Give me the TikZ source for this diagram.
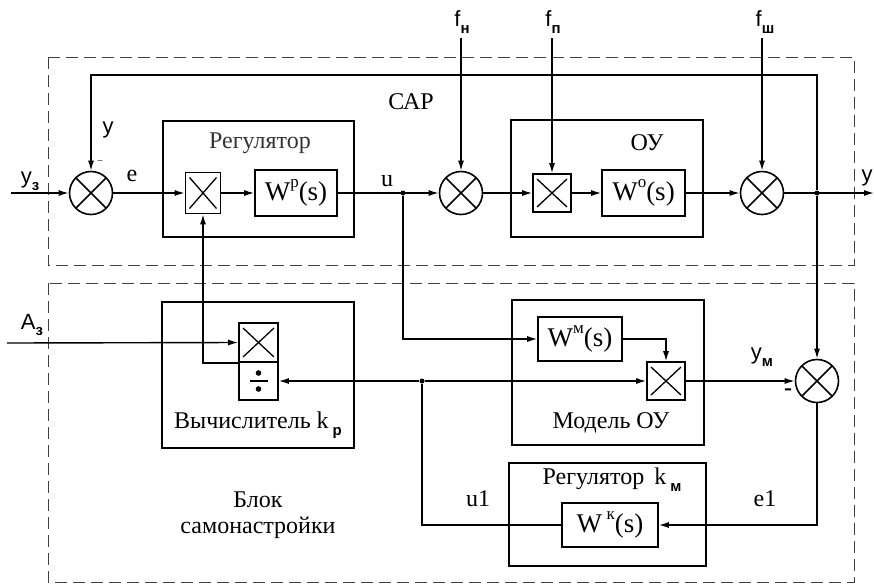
\documentclass[tikz,border=0pt]{standalone}
\usepackage{fontspec}
\setmainfont{Liberation Serif}
\newfontfamily\lsans{Liberation Sans}
\usetikzlibrary{arrows.meta}
\newcommand{\sps}[1]{\raisebox{0.5em}{\fontsize{17}{18}\selectfont #1}}
\newcommand{\sbs}[1]{\raisebox{-0.3em}{\fontsize{15}{16}\selectfont\lsans\bfseries #1}}
\begin{document}
\begin{tikzpicture}[x=1pt,y=-1pt,
  every node/.style={font=\fontsize{24}{28}\selectfont, inner sep=0pt},
  grp/.style={draw, line width=1.8pt, rectangle},
  blk/.style={draw, line width=1.6pt, rectangle, font=\fontsize{27}{30}\selectfont},
  mul/.style={draw, line width=1.6pt, rectangle,
    path picture={\draw[line width=1.3pt]
      ([shift={(4pt,-5pt)}]path picture bounding box.north west) --
      ([shift={(-4pt,5pt)}]path picture bounding box.south east)
      ([shift={(-4pt,-5pt)}]path picture bounding box.north east) --
      ([shift={(4pt,5pt)}]path picture bounding box.south west);}},
  dv/.style={draw, line width=1.6pt, rectangle,
    path picture={\draw[line width=1.5pt]
      ([xshift=-9pt]path picture bounding box.center) --
      ([xshift=9pt]path picture bounding box.center);
      \fill ([yshift=8pt]path picture bounding box.center) circle (2.8pt);
      \fill ([yshift=-8pt]path picture bounding box.center) circle (2.8pt);}},
  sumc/.style={circle, draw, line width=1.6pt, minimum size=43pt,
    path picture={\draw[line width=1.5pt]
      ([shift={(45:21.5pt)}]path picture bounding box.center) --
      ([shift={(225:21.5pt)}]path picture bounding box.center)
      ([shift={(135:21.5pt)}]path picture bounding box.center) --
      ([shift={(315:21.5pt)}]path picture bounding box.center);}},
  arr/.style={line width=1.4pt, -{Latex[length=10pt,width=6pt]}},
  ln/.style={line width=1.4pt},
  dframe/.style={draw=black!75, line width=0.9pt, dash pattern=on 12pt off 6pt},
  dotj/.style={circle, fill, minimum size=5pt},
  lbl/.style={font=\fontsize{24}{28}\selectfont},
  slbl/.style={font=\fontsize{22}{26}\selectfont\lsans},
]
\useasboundingbox (0,0) rectangle (874,584);

% dashed frames
\draw[dframe] (48,57) rectangle (854,265);
\draw[dframe] (48,283) rectangle (854,582);

% upper (САР) blocks
\node[grp, minimum width=191pt, minimum height=116pt] (reg) at (258.5,179) {};
\node[grp, minimum width=192pt, minimum height=117pt] (ou) at (607,178.5) {};
\node[sumc] (s1) at (91,193) {};
\node[mul, minimum width=35pt, minimum height=41pt] (m1) at (203,193) {};
\node[blk, minimum width=82pt, minimum height=46pt] (wp) at (296,193) {W\sps{р}(s)};
\node[sumc] (s2) at (461,193) {};
\node[mul, minimum width=38pt, minimum height=38pt] (m2) at (552,193) {};
\node[blk, minimum width=83pt, minimum height=46pt] (wo) at (643.5,193) {W\sps{о}(s)};
\node[sumc] (s3) at (762,193) {};

% lower blocks
\node[grp, minimum width=192pt, minimum height=146pt] (calc) at (258,375) {};
\node[mul, minimum width=39pt, minimum height=39pt] (mul4) at (258.5,342.5) {};
\node[dv, minimum width=39pt, minimum height=38pt] (div) at (258.5,381) {};
\node[grp, minimum width=192pt, minimum height=145pt] (model) at (608,372.5) {};
\node[blk, minimum width=84pt, minimum height=44pt] (wm) at (580,339) {W\sps{м}(s)};
\node[mul, minimum width=38pt, minimum height=38pt] (m3) at (666,381) {};
\node[sumc] (s4) at (817,381) {};
\node[grp, minimum width=197pt, minimum height=103pt] (regk) at (607.5,514.5) {};
\node[blk, minimum width=96pt, minimum height=44pt] (wk) at (610,525) {W\,\sps{к}(s)};

% coordinates
\coordinate (yzin) at (11,193);
\coordinate (yout) at (874,193);
\coordinate (fb) at (0,75);
\coordinate (fn) at (461,38);
\coordinate (fp) at (552,38);
\coordinate (fsh) at (762,38);
\coordinate (azin) at (7,343);
\node[dotj] (ju) at (403,193) {};
\node[dotj] (j1) at (817,193) {};
\node[dotj] (j2) at (422,381) {};

% connectors, upper
\draw[arr] (yzin) -- (s1.west);
\draw[arr] (s1.east) -- (m1.west);
\draw[arr] (m1.east) -- (wp.west);
\draw[arr] (wp.east) -- (s2.west);
\draw[arr] (s2.east) -- (m2.west);
\draw[arr] (m2.east) -- (wo.west);
\draw[arr] (wo.east) -- (s3.west);
\draw[arr] (s3.east) -- (yout);
\draw[arr] (j1) -- (j1 |- fb) -| (s1.north);
\draw[arr] (fn) -- (s2.north);
\draw[arr] (fp) -- (m2.north);
\draw[arr] (fsh) -- (s3.north);

% connectors, lower
\draw[arr] (j1) -- (s4.north);
\draw[arr] (ju) |- (wm.west);
\draw[arr] (wm.east) -| (m3.north);
\draw[arr] (j2) -- (m3.west);
\draw[arr] (j2) -- (div.east);
\draw[arr] (m3.east) -- (s4.west);
\draw[arr] (s4.south) |- (wk.east);
\draw[ln] (wk.west) -| (j2);
\draw[arr] (azin) -- (mul4.west);
\draw[arr] (mul4.south west) -| (m1.south);

% labels
\node[slbl] (lyz) at (30,181) {у\sbs{з}};
\node[lbl] (le) at (132,176) {е};
\node[slbl] (ly) at (108,130) {у};
\node[lbl] (lm1) at (100,162) {\fontsize{10}{10}\selectfont –};
\node[lbl] (lu) at (387,181) {u};
\node[lbl] (lsar) at (411,102) {САР};
\node[lbl, text=black!80] (lreg) at (260,143) {Регулятор};
\node[lbl] (lou) at (647,143) {ОУ};
\node[slbl] (lfn) at (462,22) {f\sbs{н}};
\node[slbl] (lfp) at (553,22) {f\sbs{п}};
\node[slbl] (lfsh) at (765,22) {f\sbs{ш}};
\node[slbl] (lyo) at (867,178) {у};
\node[slbl] (laz) at (32,325) {A\sbs{з}};
\node[lbl] (lcalc) at (258,425) {Вычислитель k\,\sbs{р}};
\node[lbl] (lblock) at (258,500) {Блок};
\node[lbl] (lsamo) at (258,528) {самонастройки};
\node[lbl] (lmod) at (611,423) {Модель ОУ};
\node[slbl] (lym) at (762,357) {у\sbs{м}};
\node[lbl] (lm2) at (788,392) {\bfseries -};
\node[lbl] (lregk) at (612,480) {Регулятор\, k\,\sbs{м}};
\node[lbl] (lu1) at (478,499) {u1};
\node[lbl] (le1) at (765,499) {e1};
\end{tikzpicture}
\end{document}
